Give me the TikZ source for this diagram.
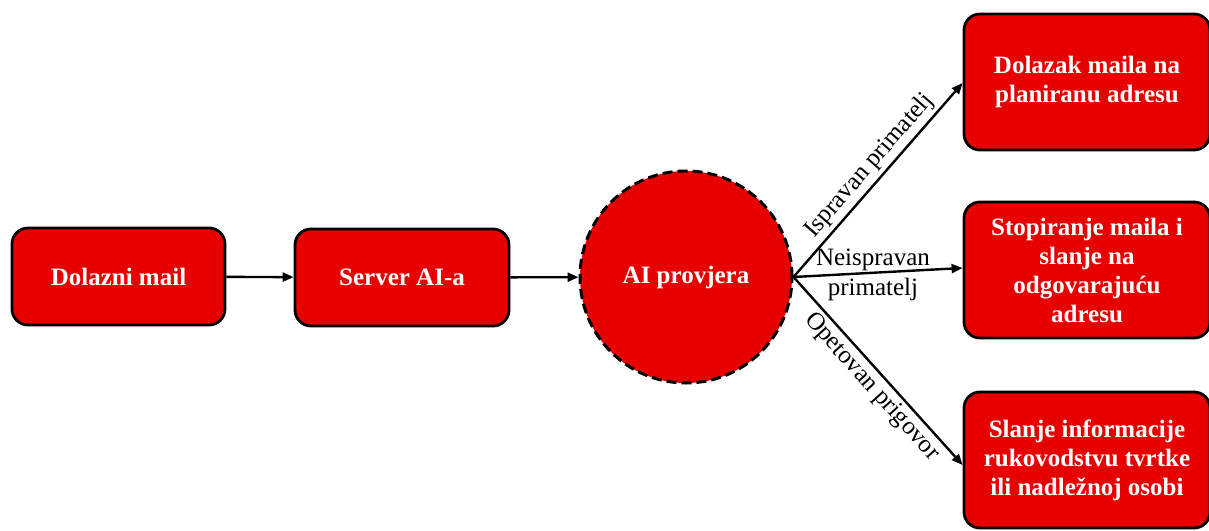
\documentclass[tikz,border=0pt]{standalone}
\usepackage{fontspec}
\setmainfont{Liberation Serif}
\usetikzlibrary{arrows.meta}
\definecolor{boxred}{RGB}{230,0,0}
\begin{document}
\begin{tikzpicture}[x=1pt,y=-1pt,
  box/.style={draw=black, line width=2.8pt, fill=boxred, rounded corners=16pt,
    text=white, font=\fontsize{25}{29}\selectfont\bfseries, align=center, inner sep=0pt},
  conn/.style={line width=2.4pt, -{Triangle[length=11pt,width=9pt]}},
  lbl/.style={font=\fontsize{25}{29}\selectfont, text=black, align=center}]
\useasboundingbox (0,0) rectangle (1209,530);
\clip (0,0) rectangle (1209,530);
\node[box, minimum width=213pt, minimum height=97pt] (in) at (118.5,276.5) {Dolazni mail};
\node[box, minimum width=214pt, minimum height=97pt] (srv) at (402,277.5) {Server AI-a};
\node[circle, draw=black, line width=3pt, dash pattern=on 10pt off 5pt, fill=boxred,
  minimum size=212pt, inner sep=0pt, text=white,
  font=\fontsize{25}{29}\selectfont\bfseries] (ai) at (686,277) {AI provjera};
\node[box, minimum width=246pt, minimum height=136pt] (b1) at (1087,82) {Dolazak maila na\\planiranu adresu};
\node[box, minimum width=246pt, minimum height=136pt] (b2) at (1087,270) {Stopiranje maila i\\slanje na\\odgovarajuću\\adresu};
\node[box, minimum width=246pt, minimum height=136pt] (b3) at (1087,460) {Slanje informacije\\rukovodstvu tvrtke\\ili nadležnoj osobi};
\draw[conn] (in) -- (srv);
\draw[conn] (srv) -- (ai);
\draw[conn] (ai.east) -- node[lbl, sloped, above, pos=0.52] {Ispravan primatelj} ([yshift=-1pt]b1.west);
\draw[conn] (ai.east) -- node[lbl, pos=0.47, yshift=-2pt] {Neispravan\\[1pt]primatelj} ([yshift=2pt]b2.west);
\draw[conn] (ai.east) -- node[lbl, sloped, below, pos=0.53] {Opetovan prigovor} ([yshift=-5pt]b3.west);
\end{tikzpicture}
\end{document}
